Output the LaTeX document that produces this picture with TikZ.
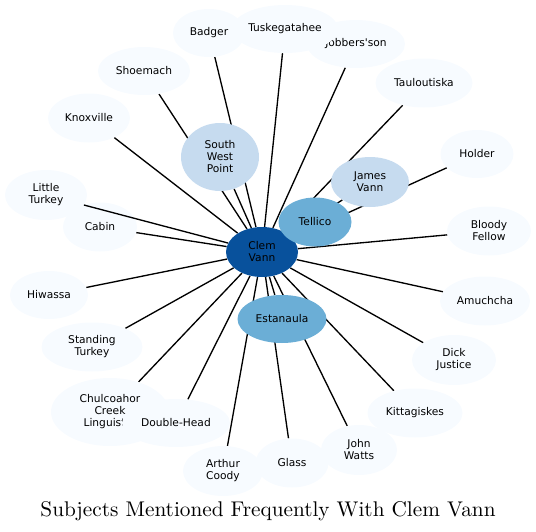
\documentclass[tikz,border=0pt]{standalone}
\usepackage{amsmath}
\usepackage{fontspec}
\usepackage{tikz}
\usetikzlibrary{shapes.geometric,backgrounds}
\newfontfamily\nodefont{DejaVu Sans}
\newfontfamily\titlefont{lmroman10-regular}[Extension=.otf]
\definecolor{blueA}{RGB}{247,251,255}
\definecolor{blueB}{RGB}{198,219,239}
\definecolor{blueC}{RGB}{107,174,214}
\definecolor{blueD}{RGB}{8,81,156}
\tikzset{
  subj/.style={ellipse, draw=none, inner sep=0pt, align=center, text=black,
    font=\nodefont\fontsize{8}{9}\selectfont},
  link/.style={line width=1pt, draw=black},
}

\begin{document}
\begin{tikzpicture}[x=0.75pt,y=0.75pt,yscale=-1,xscale=1]
\path[use as bounding box] (0,0) rectangle (536,532);

%Shape: Ellipse nodes (name/x/y/width/height/fill/label)
\foreach \nm/\px/\py/\w/\h/\col/\lbl in {
  littleturkey/46/195/82/50/blueA/{Little\\Turkey},
  cabin/100/227/74/49/blueA/{Cabin},
  knoxville/89/118/82/49/blueA/{Knoxville},
  shoemach/144/71/92/48/blueA/{Shoemach},
  badger/209/33/72/48/blueA/{Badger},
  jobbersson/356/44/98/48/blueA/{Jobbers'son},
  tuskegatahee/285/29/106/48/blueA/{Tuskegatahee},
  tauloutiska/424/83/97/49/blueA/{Tauloutiska},
  holder/477/154/73/48/blueA/{Holder},
  bloodyfellow/489/231/84/49/blueA/{Bloody\\Fellow},
  amuchcha/485/301/90/49/blueA/{Amuchcha},
  dickjustice/454/360/84/50/blueA/{Dick\\Justice},
  kittagiskes/415/413/95/49/blueA/{Kittagiskes},
  johnwatts/359/450/76/50/blueA/{John\\Watts},
  arthurcoody/223/471/80/50/blueA/{Arthur\\Coody},
  glass/292/463/73/49/blueA/{Glass},
  chulcoahor/110/412/118/68/blueA/{Chulcoahor\\Creek\\Linguister},
  doublehead/176/423/108/48/blueA/{Double-Head},
  standingturkey/92/347/101/49/blueA/{Standing\\Turkey},
  hiwassa/49/295/78/48/blueA/{Hiwassa},
  southwestpoint/220/157/78/68/blueB/{South\\West\\Point},
  jamesvann/370/182/78/50/blueB/{James\\Vann},
  clemvann/262/252/72/50/blueD/{Clem\\Vann},
  tellico/315/222/73/49/blueC/{Tellico},
  estanaula/282/319/89/48/blueC/{Estanaula}}
  \node[subj, fill=\col, minimum width=\w*0.75pt, minimum height=\h*0.75pt] (\nm) at (\px,\py) {\lbl};

%Straight Lines: all links from Clem Vann, under the nodes
\begin{pgfonlayer}{background}
\foreach \nm in {cabin,knoxville,shoemach,badger,jobbersson,tuskegatahee,tauloutiska,holder,bloodyfellow,amuchcha,dickjustice,kittagiskes,johnwatts,arthurcoody,glass,chulcoahor,doublehead,standingturkey,hiwassa,southwestpoint,jamesvann,tellico,estanaula}
  \draw[link] (clemvann) -- (\nm);
\end{pgfonlayer}
\draw[link] (clemvann) -- (littleturkey);

% Text Node
\node[font=\titlefont\fontsize{15.94}{19}\selectfont] (title) at (268,511) {Subjects Mentioned Frequently With Clem Vann};
\end{tikzpicture}
\end{document}
